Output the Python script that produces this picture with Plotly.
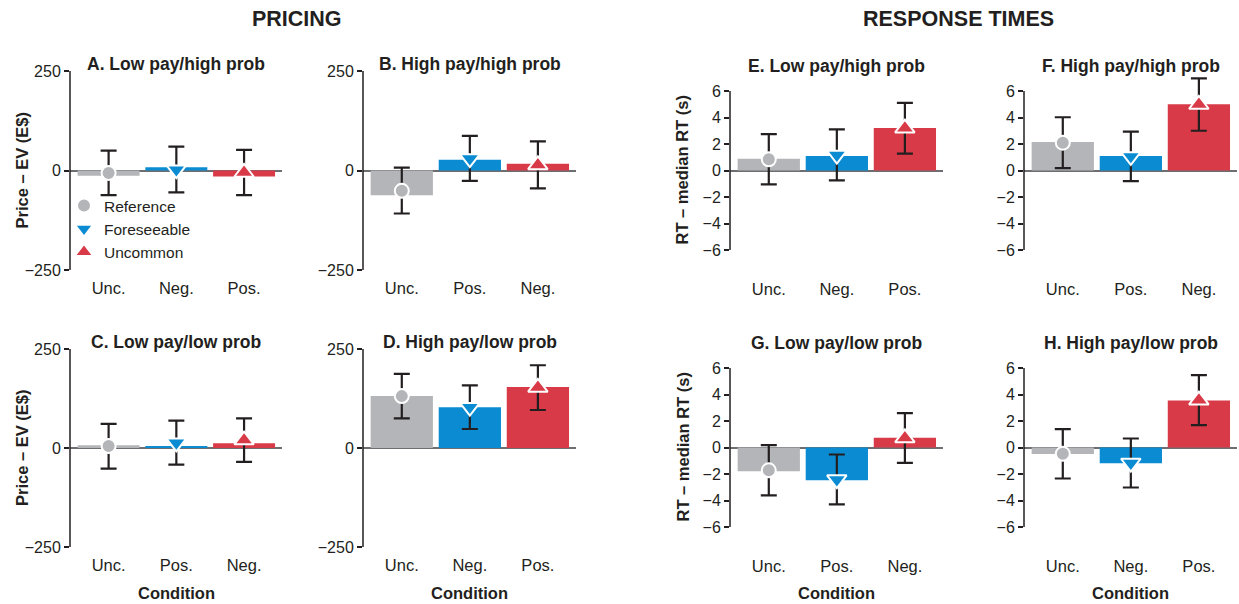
import plotly.graph_objects as go

W, H = 1239, 604

# ---------------- data ----------------
groups = ["Reference", "Foreseeable", "Uncommon"]

labels_A = ["Unc.", "Neg.", "Pos."]
labels_B = ["Unc.", "Pos.", "Neg."]
labels_C = ["Unc.", "Pos.", "Neg."]
labels_D = ["Unc.", "Neg.", "Pos."]
labels_E = ["Unc.", "Neg.", "Pos."]
labels_F = ["Unc.", "Pos.", "Neg."]
labels_G = ["Unc.", "Pos.", "Neg."]
labels_H = ["Unc.", "Neg.", "Pos."]

# bar heights
bars_A = [-13, 8, -15]
bars_B = [-62, 27, 17]
bars_C = [7, 5, 12]
bars_D = [131, 103, 154]
bars_E = [0.88, 1.10, 3.20]
bars_F = [2.15, 1.10, 5.00]
bars_G = [-1.79, -2.47, 0.73]
bars_H = [-0.50, -1.18, 3.55]

# marker (mean) values
mean_A = [-6, 2, -5]
mean_B = [-51, 30, 14]
mean_C = [5, 13, 20]
mean_D = [131, 103, 153]
mean_E = [0.85, 1.17, 3.19]
mean_F = [2.10, 1.06, 4.98]
mean_G = [-1.72, -2.42, 0.72]
mean_H = [-0.48, -1.17, 3.57]

# error bar upper / lower ends
hi_A = [50, 60, 52]
lo_A = [-62, -55, -62]
hi_B = [7, 87, 73]
lo_B = [-108, -26, -45]
hi_C = [61, 69, 75]
lo_C = [-52, -42, -35]
hi_D = [187, 158, 209]
lo_D = [75, 48, 96]
hi_E = [2.75, 3.10, 5.10]
lo_E = [-1.05, -0.75, 1.28]
hi_F = [4.02, 2.93, 6.95]
lo_F = [0.18, -0.80, 3.00]
hi_G = [0.18, -0.53, 2.59]
lo_G = [-3.62, -4.30, -1.16]
hi_H = [1.38, 0.68, 5.46]
lo_H = [-2.34, -3.02, 1.69]

price_ticks = [-250, 0, 250]
rt_ticks = [-6, -4, -2, 0, 2, 4, 6]

titles = {
    "A": "A. Low pay/high prob", "B": "B. High pay/high prob",
    "C": "C. Low pay/low prob", "D": "D. High pay/low prob",
    "E": "E. Low pay/high prob", "F": "F. High pay/high prob",
    "G": "G. Low pay/low prob", "H": "H. High pay/low prob",
}

# ---------------- style ----------------
FONT = "Liberation Sans, Arial, Helvetica, sans-serif"
TXT = "#231f20"
bar_colors = ["#b4b5b9", "#0a8bd2", "#d93a48"]
symbols = ["circle", "triangle-down", "triangle-up"]
msizes = [14, 17, 17]

# panel pixel boxes (axis extent): x0, x1, ytop, ybottom
boxes = {
    "A": (70, 282, 71, 270), "B": (363, 576, 71, 270),
    "C": (70, 282, 349, 547), "D": (363, 576, 349, 547),
    "E": (730, 943, 91, 250), "F": (1024, 1237, 91, 250),
    "G": (730, 943, 368, 527), "H": (1024, 1237, 368, 527),
}

panels = {
    "A": (labels_A, bars_A, mean_A, hi_A, lo_A, "price"),
    "B": (labels_B, bars_B, mean_B, hi_B, lo_B, "price"),
    "C": (labels_C, bars_C, mean_C, hi_C, lo_C, "price"),
    "D": (labels_D, bars_D, mean_D, hi_D, lo_D, "price"),
    "E": (labels_E, bars_E, mean_E, hi_E, lo_E, "rt"),
    "F": (labels_F, bars_F, mean_F, hi_F, lo_F, "rt"),
    "G": (labels_G, bars_G, mean_G, hi_G, lo_G, "rt"),
    "H": (labels_H, bars_H, mean_H, hi_H, lo_H, "rt"),
}


def px_x(p):
    return p / W


def px_y(p):
    return 1 - p / H


fig = go.Figure()
layout = {}
annotations = []
shapes = []

for i, (key, (labels, bars, means, his, los, kind)) in enumerate(panels.items()):
    n = i + 1
    xa = "x" if n == 1 else f"x{n}"
    ya = "y" if n == 1 else f"y{n}"
    x0, x1, yt, yb = boxes[key]

    fig.add_trace(go.Bar(
        x=labels, y=bars, width=0.915,
        marker=dict(color=bar_colors, line=dict(width=0)),
        xaxis=xa, yaxis=ya, showlegend=False, hoverinfo="skip",
    ))
    for g in range(3):
        fig.add_trace(go.Scatter(
            x=[labels[g]], y=[means[g]], mode="markers",
            name=groups[g], legendgroup=groups[g], showlegend=(n == 1),
            cliponaxis=False,
            marker=dict(symbol=symbols[g], size=msizes[g], color=bar_colors[g],
                        line=dict(color="white", width=2)),
            error_y=dict(type="data", symmetric=False,
                         array=[his[g] - means[g]], arrayminus=[means[g] - los[g]],
                         color=TXT, thickness=2.2, width=8),
            xaxis=xa, yaxis=ya,
        ))

    if kind == "price":
        yr = [-250, 250]
        tv = price_ticks
        standoff = 6
    else:
        yr = [-6, 6]
        tv = rt_ticks
        standoff = 27

    # let the plotting area grow upwards if an error bar overshoots the axis
    ppu = (yb - yt) / (yr[1] - yr[0])
    top_val = max(yr[1], max(his) + 0.04 * (yr[1] - yr[0]))
    yt_plot = yt - (top_val - yr[1]) * ppu

    xkey = "xaxis" if n == 1 else f"xaxis{n}"
    ykey = "yaxis" if n == 1 else f"yaxis{n}"
    layout[xkey] = dict(
        domain=[px_x(x0), px_x(x1)], anchor=ya, type="category",
        categoryorder="array", categoryarray=labels,
        range=[-0.57, 2.56], showline=False, showgrid=False, zeroline=False,
        ticks="", ticklabelstandoff=standoff, automargin=False,
        tickfont=dict(size=16.5, color=TXT, family=FONT), fixedrange=True,
    )
    layout[ykey] = dict(
        domain=[px_y(yb), px_y(yt_plot)], anchor=xa, range=[yr[0], top_val],
        tickvals=tv, showline=False,
        ticks="outside", ticklen=5, tickwidth=1.5, tickcolor=TXT,
        showgrid=False, zeroline=True, zerolinecolor="#6d6e71", zerolinewidth=1.5,
        layer="above traces", automargin=False,
        tickfont=dict(size=16, color=TXT, family=FONT), fixedrange=True,
    )
    # y axis spine spanning only the labelled range
    shapes.append(dict(
        type="line", xref=f"{xa} domain", yref=ya, x0=0, x1=0,
        y0=yr[0], y1=yr[1], line=dict(color=TXT, width=1.5), layer="above",
    ))

    # panel title
    annotations.append(dict(
        text=f"<b>{titles[key]}</b>", x=px_x((x0 + x1) / 2),
        y=px_y(yt - 7 if kind == "price" else yt - 25),
        xref="paper", yref="paper", xanchor="center", yanchor="middle",
        showarrow=False, font=dict(size=17.5, color=TXT, family=FONT),
    ))
    if key in ("C", "D", "G", "H"):
        annotations.append(dict(
            text="<b>Condition</b>", x=px_x((x0 + x1) / 2), y=px_y(593),
            xref="paper", yref="paper", xanchor="center", yanchor="middle",
            showarrow=False, font=dict(size=16.5, color=TXT, family=FONT),
        ))
    if key in ("A", "C", "E", "G"):
        ytxt = "Price – EV (E$)" if kind == "price" else "RT – median RT (s)"
        xpos = 22 if kind == "price" else 682
        annotations.append(dict(
            text=f"<b>{ytxt}</b>", x=px_x(xpos), y=px_y((yt + yb) / 2),
            xref="paper", yref="paper", xanchor="center", yanchor="middle",
            textangle=-90, showarrow=False,
            font=dict(size=16.5, color=TXT, family=FONT),
        ))

annotations.append(dict(
    text="<b>PRICING</b>", x=px_x(297), y=px_y(19), xref="paper", yref="paper",
    xanchor="center", yanchor="middle", showarrow=False,
    font=dict(size=21.5, color=TXT, family=FONT),
))
annotations.append(dict(
    text="<b>RESPONSE TIMES</b>", x=px_x(958), y=px_y(19), xref="paper", yref="paper",
    xanchor="center", yanchor="middle", showarrow=False,
    font=dict(size=21.5, color=TXT, family=FONT),
))

fig.update_layout(
    width=W, height=H,
    margin=dict(l=0, r=0, t=0, b=0, pad=0, autoexpand=False),
    paper_bgcolor="white", plot_bgcolor="white",
    font=dict(family=FONT, color=TXT),
    barmode="overlay",
    annotations=annotations,
    shapes=shapes,
    legend=dict(
        x=px_x(64), y=px_y(189), xanchor="left", yanchor="top",
        bgcolor="rgba(0,0,0,0)", borderwidth=0,
        font=dict(size=15.5, color=TXT, family=FONT),
        tracegroupgap=0, itemclick=False, itemdoubleclick=False,
    ),
    **layout,
)

fig.write_html(
    "out.html",
    config={"displayModeBar": False},
    post_script="document.body.style.margin='0';document.body.style.overflow='hidden';",
)
